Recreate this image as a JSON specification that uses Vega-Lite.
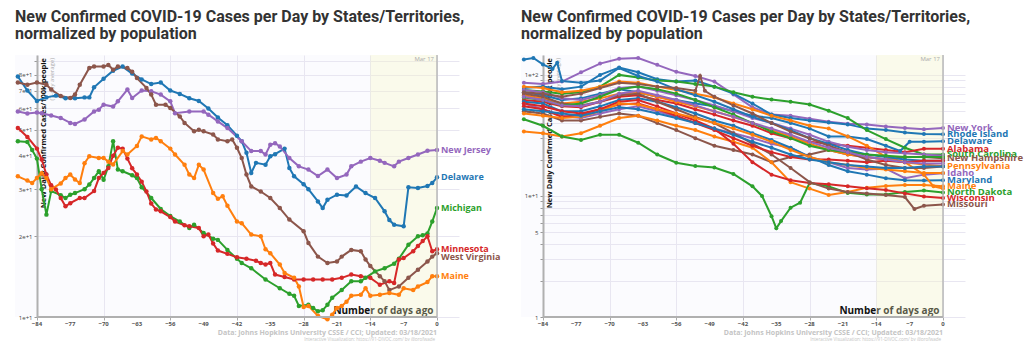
{
"$schema":"https://vega.github.io/schema/vega-lite/v6.json",
"background":"#ffffff",
"padding":{"left":13,"top":8,"right":0,"bottom":0},
"bounds":"flush",
"spacing":84,
"config":{
 "font":"Open Sans",
 "view":{"fill":"#fbfbfe","stroke":null},
 "title":{"font":"Roboto","fontSize":16,"fontWeight":"bold","color":"#333333","anchor":"start","frame":"group","offset":12,"lineHeight":17},
 "axisX":{"labels":false,"labelOverlap":false,"tickSize":3,"tickColor":"#aaaaaa","domain":false,"grid":true,"gridColor":"#e8e6f1","titleLimit":1000,"titleX":418,"titleY":-4,"titleAlign":"right","titleBaseline":"alphabetic","titleFontSize":10,"titleFontWeight":"bold","titleColor":"#111111"},
 "axisY":{"offset":-22,"labelOverlap":false,"labelFontSize":6,"labelColor":"#444444","labelPadding":2,"tickSize":3,"tickColor":"#999999","domainColor":"#b0b0b0","domainWidth":2,"grid":true,"gridColor":"#e8e6f1"}
},
"datasets":{
"T":[{"d":-84},{"d":-77},{"d":-70},{"d":-63},{"d":-56},{"d":-49},{"d":-42},{"d":-35},{"d":-28},{"d":-21},{"d":-14},{"d":-7},{"d":0}],
"L":[
{"s":"Delaware","d":-88,"v":79},{"s":"Delaware","d":-86,"v":70},{"s":"Delaware","d":-84,"v":64},{"s":"Delaware","d":-82,"v":66},{"s":"Delaware","d":-80,"v":67},{"s":"Delaware","d":-78,"v":65.5},{"s":"Delaware","d":-76,"v":65.5},{"s":"Delaware","d":-74,"v":66},{"s":"Delaware","d":-73,"v":66},{"s":"Delaware","d":-72,"v":72},{"s":"Delaware","d":-70,"v":77.5},{"s":"Delaware","d":-68,"v":83},{"s":"Delaware","d":-66,"v":86},{"s":"Delaware","d":-64,"v":81},{"s":"Delaware","d":-62,"v":77},{"s":"Delaware","d":-60,"v":74},{"s":"Delaware","d":-58,"v":75},{"s":"Delaware","d":-56,"v":70},{"s":"Delaware","d":-54,"v":68},{"s":"Delaware","d":-52,"v":65.5},{"s":"Delaware","d":-50,"v":64},{"s":"Delaware","d":-48,"v":60},{"s":"Delaware","d":-46,"v":55.5},{"s":"Delaware","d":-44,"v":52},{"s":"Delaware","d":-42,"v":47.5},{"s":"Delaware","d":-41,"v":45.3},{"s":"Delaware","d":-40,"v":41},{"s":"Delaware","d":-39,"v":34.5},{"s":"Delaware","d":-38,"v":37.6},{"s":"Delaware","d":-36,"v":37},{"s":"Delaware","d":-35,"v":39.8},{"s":"Delaware","d":-34,"v":40.5},{"s":"Delaware","d":-32,"v":42.5},{"s":"Delaware","d":-31,"v":36},{"s":"Delaware","d":-30,"v":33.5},{"s":"Delaware","d":-28,"v":31.3},{"s":"Delaware","d":-27,"v":30},{"s":"Delaware","d":-25,"v":27},{"s":"Delaware","d":-24,"v":25.5},{"s":"Delaware","d":-23,"v":27.4},{"s":"Delaware","d":-21,"v":28.6},{"s":"Delaware","d":-19,"v":28.4},{"s":"Delaware","d":-17,"v":30.7},{"s":"Delaware","d":-15,"v":29},{"s":"Delaware","d":-13,"v":27.8},{"s":"Delaware","d":-11,"v":24.8},{"s":"Delaware","d":-10,"v":23},{"s":"Delaware","d":-9,"v":22.1},{"s":"Delaware","d":-7,"v":21.8},{"s":"Delaware","d":-6,"v":30.5},{"s":"Delaware","d":-4,"v":30.3},{"s":"Delaware","d":-2,"v":30.8},{"s":"Delaware","d":-1,"v":31.6},{"s":"Delaware","d":0,"v":33.2},
{"s":"New Jersey","d":-88,"v":58.5},{"s":"New Jersey","d":-86,"v":57.5},{"s":"New Jersey","d":-84,"v":58},{"s":"New Jersey","d":-83,"v":57.6},{"s":"New Jersey","d":-81,"v":56.5},{"s":"New Jersey","d":-79,"v":55.3},{"s":"New Jersey","d":-77,"v":53},{"s":"New Jersey","d":-76,"v":52.5},{"s":"New Jersey","d":-74,"v":54.6},{"s":"New Jersey","d":-72,"v":58.5},{"s":"New Jersey","d":-71,"v":59.4},{"s":"New Jersey","d":-70,"v":62},{"s":"New Jersey","d":-68,"v":61},{"s":"New Jersey","d":-67,"v":63.8},{"s":"New Jersey","d":-65,"v":70.6},{"s":"New Jersey","d":-64,"v":65.6},{"s":"New Jersey","d":-62,"v":70},{"s":"New Jersey","d":-60,"v":69.6},{"s":"New Jersey","d":-58,"v":67.6},{"s":"New Jersey","d":-56,"v":63.8},{"s":"New Jersey","d":-55,"v":57.6},{"s":"New Jersey","d":-52,"v":58.5},{"s":"New Jersey","d":-49,"v":58.5},{"s":"New Jersey","d":-48,"v":56.9},{"s":"New Jersey","d":-46,"v":53.7},{"s":"New Jersey","d":-44,"v":50.7},{"s":"New Jersey","d":-41,"v":45.3},{"s":"New Jersey","d":-39,"v":41.6},{"s":"New Jersey","d":-37,"v":41.6},{"s":"New Jersey","d":-36,"v":40.4},{"s":"New Jersey","d":-35,"v":43.9},{"s":"New Jersey","d":-34,"v":44.5},{"s":"New Jersey","d":-33,"v":43.3},{"s":"New Jersey","d":-31,"v":39.2},{"s":"New Jersey","d":-29,"v":36.5},{"s":"New Jersey","d":-27,"v":35.5},{"s":"New Jersey","d":-25,"v":33.6},{"s":"New Jersey","d":-23,"v":35.5},{"s":"New Jersey","d":-21,"v":33},{"s":"New Jersey","d":-19,"v":34},{"s":"New Jersey","d":-18,"v":36.5},{"s":"New Jersey","d":-16,"v":38},{"s":"New Jersey","d":-14,"v":39.2},{"s":"New Jersey","d":-12,"v":38.3},{"s":"New Jersey","d":-11,"v":37.6},{"s":"New Jersey","d":-9,"v":36.5},{"s":"New Jersey","d":-8,"v":38},{"s":"New Jersey","d":-6,"v":39.2},{"s":"New Jersey","d":-4,"v":40.4},{"s":"New Jersey","d":-2,"v":41.7},{"s":"New Jersey","d":0,"v":42},
{"s":"West Virginia","d":-88,"v":75},{"s":"West Virginia","d":-86,"v":73.6},{"s":"West Virginia","d":-84,"v":75},{"s":"West Virginia","d":-82,"v":73.6},{"s":"West Virginia","d":-81,"v":70.6},{"s":"West Virginia","d":-79,"v":66.8},{"s":"West Virginia","d":-77,"v":65.6},{"s":"West Virginia","d":-76,"v":67.6},{"s":"West Virginia","d":-75,"v":73.6},{"s":"West Virginia","d":-73,"v":85},{"s":"West Virginia","d":-72,"v":86},{"s":"West Virginia","d":-70,"v":86},{"s":"West Virginia","d":-69,"v":87.2},{"s":"West Virginia","d":-68,"v":83.7},{"s":"West Virginia","d":-67,"v":86},{"s":"West Virginia","d":-65,"v":85},{"s":"West Virginia","d":-64,"v":82.3},{"s":"West Virginia","d":-63,"v":77.9},{"s":"West Virginia","d":-61,"v":71.6},{"s":"West Virginia","d":-60,"v":67.6},{"s":"West Virginia","d":-59,"v":62},{"s":"West Virginia","d":-57,"v":62},{"s":"West Virginia","d":-56,"v":60.2},{"s":"West Virginia","d":-54,"v":56},{"s":"West Virginia","d":-53,"v":53},{"s":"West Virginia","d":-51,"v":49.3},{"s":"West Virginia","d":-50,"v":50},{"s":"West Virginia","d":-49,"v":49.3},{"s":"West Virginia","d":-47,"v":48},{"s":"West Virginia","d":-46,"v":46},{"s":"West Virginia","d":-44,"v":45.3},{"s":"West Virginia","d":-43,"v":46},{"s":"West Virginia","d":-42,"v":42.8},{"s":"West Virginia","d":-41,"v":39.2},{"s":"West Virginia","d":-40,"v":34},{"s":"West Virginia","d":-39,"v":30.7},{"s":"West Virginia","d":-37,"v":29.4},{"s":"West Virginia","d":-35,"v":27.8},{"s":"West Virginia","d":-33,"v":25.5},{"s":"West Virginia","d":-31,"v":23.1},{"s":"West Virginia","d":-28,"v":20.9},{"s":"West Virginia","d":-27,"v":18.9},{"s":"West Virginia","d":-25,"v":16.8},{"s":"West Virginia","d":-23,"v":15.9},{"s":"West Virginia","d":-21,"v":16.1},{"s":"West Virginia","d":-20,"v":16.8},{"s":"West Virginia","d":-18,"v":17.8},{"s":"West Virginia","d":-16,"v":17.6},{"s":"West Virginia","d":-15,"v":16.4},{"s":"West Virginia","d":-14,"v":15.5},{"s":"West Virginia","d":-12,"v":14.2},{"s":"West Virginia","d":-11,"v":13.6},{"s":"West Virginia","d":-10,"v":12.6},{"s":"West Virginia","d":-8,"v":13},{"s":"West Virginia","d":-6,"v":14},{"s":"West Virginia","d":-4,"v":15},{"s":"West Virginia","d":-2,"v":16.1},{"s":"West Virginia","d":-1,"v":16.8},{"s":"West Virginia","d":0,"v":17.3},
{"s":"Michigan","d":-88,"v":45.3},{"s":"Michigan","d":-86,"v":45},{"s":"Michigan","d":-85,"v":42},{"s":"Michigan","d":-84,"v":39},{"s":"Michigan","d":-83,"v":30},{"s":"Michigan","d":-82,"v":24.1},{"s":"Michigan","d":-81,"v":29.5},{"s":"Michigan","d":-79,"v":28.5},{"s":"Michigan","d":-78,"v":27.8},{"s":"Michigan","d":-77,"v":28.6},{"s":"Michigan","d":-76,"v":29},{"s":"Michigan","d":-74,"v":30},{"s":"Michigan","d":-73,"v":31.2},{"s":"Michigan","d":-72,"v":33},{"s":"Michigan","d":-71,"v":35},{"s":"Michigan","d":-70,"v":32.5},{"s":"Michigan","d":-69,"v":36.5},{"s":"Michigan","d":-68,"v":45.3},{"s":"Michigan","d":-67,"v":35.5},{"s":"Michigan","d":-66,"v":35},{"s":"Michigan","d":-64,"v":33.8},{"s":"Michigan","d":-63,"v":33},{"s":"Michigan","d":-62,"v":30.5},{"s":"Michigan","d":-60,"v":27.8},{"s":"Michigan","d":-58,"v":25.3},{"s":"Michigan","d":-56,"v":23.8},{"s":"Michigan","d":-54,"v":22.7},{"s":"Michigan","d":-52,"v":21.5},{"s":"Michigan","d":-51,"v":22.1},{"s":"Michigan","d":-49,"v":20.6},{"s":"Michigan","d":-47,"v":19.6},{"s":"Michigan","d":-46,"v":19.4},{"s":"Michigan","d":-44,"v":17.8},{"s":"Michigan","d":-42,"v":16.5},{"s":"Michigan","d":-41,"v":15.9},{"s":"Michigan","d":-39,"v":15.2},{"s":"Michigan","d":-36,"v":13.8},{"s":"Michigan","d":-33,"v":12.8},{"s":"Michigan","d":-31,"v":12.2},{"s":"Michigan","d":-30,"v":12},{"s":"Michigan","d":-29,"v":11},{"s":"Michigan","d":-27,"v":11.1},{"s":"Michigan","d":-26,"v":10.8},{"s":"Michigan","d":-25,"v":10.5},{"s":"Michigan","d":-24,"v":10.6},{"s":"Michigan","d":-23,"v":11.1},{"s":"Michigan","d":-22,"v":11.8},{"s":"Michigan","d":-20,"v":12.6},{"s":"Michigan","d":-18,"v":13.6},{"s":"Michigan","d":-16,"v":13.6},{"s":"Michigan","d":-15,"v":14},{"s":"Michigan","d":-13,"v":14.8},{"s":"Michigan","d":-11,"v":15.2},{"s":"Michigan","d":-9,"v":15.8},{"s":"Michigan","d":-8,"v":16.5},{"s":"Michigan","d":-6,"v":18.6},{"s":"Michigan","d":-4,"v":20},{"s":"Michigan","d":-3,"v":20.2},{"s":"Michigan","d":-2,"v":20.5},{"s":"Michigan","d":-1,"v":22.7},{"s":"Michigan","d":0,"v":25.5},
{"s":"Minnesota","d":-88,"v":50.7},{"s":"Minnesota","d":-86,"v":47},{"s":"Minnesota","d":-84,"v":42.5},{"s":"Minnesota","d":-83,"v":38.7},{"s":"Minnesota","d":-82,"v":34},{"s":"Minnesota","d":-81,"v":31},{"s":"Minnesota","d":-80,"v":29.9},{"s":"Minnesota","d":-79,"v":27.8},{"s":"Minnesota","d":-78,"v":25.9},{"s":"Minnesota","d":-77,"v":26.6},{"s":"Minnesota","d":-75,"v":27.8},{"s":"Minnesota","d":-74,"v":27.8},{"s":"Minnesota","d":-72,"v":29.5},{"s":"Minnesota","d":-71,"v":33},{"s":"Minnesota","d":-70,"v":34.5},{"s":"Minnesota","d":-69,"v":36},{"s":"Minnesota","d":-68,"v":40},{"s":"Minnesota","d":-67,"v":42.8},{"s":"Minnesota","d":-66,"v":42.5},{"s":"Minnesota","d":-65,"v":39},{"s":"Minnesota","d":-64,"v":35.9},{"s":"Minnesota","d":-63,"v":34},{"s":"Minnesota","d":-62,"v":32},{"s":"Minnesota","d":-61,"v":29.4},{"s":"Minnesota","d":-60,"v":26.5},{"s":"Minnesota","d":-59,"v":25.2},{"s":"Minnesota","d":-58,"v":24.8},{"s":"Minnesota","d":-56,"v":23.6},{"s":"Minnesota","d":-55,"v":22.7},{"s":"Minnesota","d":-53,"v":22},{"s":"Minnesota","d":-52,"v":21.8},{"s":"Minnesota","d":-50,"v":21.5},{"s":"Minnesota","d":-49,"v":20},{"s":"Minnesota","d":-48,"v":20.3},{"s":"Minnesota","d":-47,"v":18.8},{"s":"Minnesota","d":-46,"v":17.7},{"s":"Minnesota","d":-44,"v":17.2},{"s":"Minnesota","d":-42,"v":16.7},{"s":"Minnesota","d":-40,"v":16.5},{"s":"Minnesota","d":-38,"v":16.2},{"s":"Minnesota","d":-37,"v":15.9},{"s":"Minnesota","d":-36,"v":15.7},{"s":"Minnesota","d":-35,"v":15.9},{"s":"Minnesota","d":-34,"v":14.4},{"s":"Minnesota","d":-32,"v":14.1},{"s":"Minnesota","d":-30,"v":13.8},{"s":"Minnesota","d":-28,"v":13.8},{"s":"Minnesota","d":-26,"v":13.8},{"s":"Minnesota","d":-24,"v":13.8},{"s":"Minnesota","d":-22,"v":13.8},{"s":"Minnesota","d":-20,"v":14},{"s":"Minnesota","d":-18,"v":14.4},{"s":"Minnesota","d":-16,"v":14.2},{"s":"Minnesota","d":-14,"v":14},{"s":"Minnesota","d":-12,"v":13.2},{"s":"Minnesota","d":-10,"v":13.6},{"s":"Minnesota","d":-9,"v":13.4},{"s":"Minnesota","d":-8,"v":16.4},{"s":"Minnesota","d":-7,"v":16.6},{"s":"Minnesota","d":-5,"v":17.6},{"s":"Minnesota","d":-4,"v":18.4},{"s":"Minnesota","d":-3,"v":19.2},{"s":"Minnesota","d":-2,"v":20},{"s":"Minnesota","d":-1,"v":17.6},{"s":"Minnesota","d":0,"v":17.9},
{"s":"Maine","d":-88,"v":33.5},{"s":"Maine","d":-86,"v":32.3},{"s":"Maine","d":-85,"v":31.6},{"s":"Maine","d":-84,"v":33},{"s":"Maine","d":-83,"v":34.4},{"s":"Maine","d":-82,"v":33},{"s":"Maine","d":-81,"v":30},{"s":"Maine","d":-79,"v":31.5},{"s":"Maine","d":-78,"v":33},{"s":"Maine","d":-77,"v":34},{"s":"Maine","d":-76,"v":32.6},{"s":"Maine","d":-75,"v":31.6},{"s":"Maine","d":-74,"v":37.5},{"s":"Maine","d":-73,"v":39.8},{"s":"Maine","d":-71,"v":39.2},{"s":"Maine","d":-70,"v":39.2},{"s":"Maine","d":-69,"v":38},{"s":"Maine","d":-68,"v":37.1},{"s":"Maine","d":-66,"v":41.6},{"s":"Maine","d":-65,"v":40.4},{"s":"Maine","d":-63,"v":43.5},{"s":"Maine","d":-62,"v":47.2},{"s":"Maine","d":-60,"v":46},{"s":"Maine","d":-59,"v":46.6},{"s":"Maine","d":-58,"v":45.3},{"s":"Maine","d":-56,"v":42.5},{"s":"Maine","d":-55,"v":40.4},{"s":"Maine","d":-53,"v":37},{"s":"Maine","d":-52,"v":34},{"s":"Maine","d":-51,"v":33},{"s":"Maine","d":-50,"v":37},{"s":"Maine","d":-49,"v":35.5},{"s":"Maine","d":-47,"v":29},{"s":"Maine","d":-46,"v":27.6},{"s":"Maine","d":-45,"v":28.2},{"s":"Maine","d":-44,"v":26},{"s":"Maine","d":-42,"v":22.7},{"s":"Maine","d":-41,"v":22.4},{"s":"Maine","d":-39,"v":20.3},{"s":"Maine","d":-37,"v":20},{"s":"Maine","d":-36,"v":17.9},{"s":"Maine","d":-35,"v":17.3},{"s":"Maine","d":-33,"v":15.7},{"s":"Maine","d":-32,"v":14.6},{"s":"Maine","d":-30,"v":14},{"s":"Maine","d":-29,"v":13},{"s":"Maine","d":-28,"v":10.9},{"s":"Maine","d":-27,"v":11},{"s":"Maine","d":-25,"v":10.1},{"s":"Maine","d":-23,"v":9.8},{"s":"Maine","d":-22,"v":10.2},{"s":"Maine","d":-21,"v":10.8},{"s":"Maine","d":-20,"v":11},{"s":"Maine","d":-19,"v":11.4},{"s":"Maine","d":-18,"v":12},{"s":"Maine","d":-16,"v":12.1},{"s":"Maine","d":-15,"v":12.8},{"s":"Maine","d":-14,"v":12},{"s":"Maine","d":-12,"v":12.1},{"s":"Maine","d":-10,"v":12.3},{"s":"Maine","d":-8,"v":12.1},{"s":"Maine","d":-7,"v":12.8},{"s":"Maine","d":-5,"v":12.6},{"s":"Maine","d":-4,"v":13},{"s":"Maine","d":-2,"v":13.5},{"s":"Maine","d":-1,"v":14.2},{"s":"Maine","d":0,"v":14.2}
],
"R":[
{"s":"New York","d":-88,"v":86},{"s":"New York","d":-84,"v":84},{"s":"New York","d":-80,"v":88},{"s":"New York","d":-76,"v":105},{"s":"New York","d":-72,"v":124},{"s":"New York","d":-68,"v":136},{"s":"New York","d":-64,"v":138},{"s":"New York","d":-60,"v":121},{"s":"New York","d":-56,"v":106},{"s":"New York","d":-52,"v":98},{"s":"New York","d":-48,"v":88},{"s":"New York","d":-44,"v":69},{"s":"New York","d":-40,"v":54},{"s":"New York","d":-36,"v":47},{"s":"New York","d":-32,"v":46},{"s":"New York","d":-28,"v":43.5},{"s":"New York","d":-24,"v":41},{"s":"New York","d":-20,"v":39.5},{"s":"New York","d":-16,"v":39},{"s":"New York","d":-12,"v":37.5},{"s":"New York","d":-8,"v":36.5},{"s":"New York","d":-4,"v":35.5},{"s":"New York","d":0,"v":36.5},
{"s":"Rhode Island","d":-88,"v":78},{"s":"Rhode Island","d":-84,"v":80},{"s":"Rhode Island","d":-80,"v":76},{"s":"Rhode Island","d":-76,"v":80},{"s":"Rhode Island","d":-72,"v":100},{"s":"Rhode Island","d":-68,"v":115},{"s":"Rhode Island","d":-64,"v":105},{"s":"Rhode Island","d":-60,"v":92},{"s":"Rhode Island","d":-56,"v":88},{"s":"Rhode Island","d":-52,"v":90},{"s":"Rhode Island","d":-48,"v":80},{"s":"Rhode Island","d":-44,"v":70},{"s":"Rhode Island","d":-40,"v":58},{"s":"Rhode Island","d":-36,"v":47},{"s":"Rhode Island","d":-32,"v":44},{"s":"Rhode Island","d":-28,"v":42},{"s":"Rhode Island","d":-24,"v":40.5},{"s":"Rhode Island","d":-20,"v":39},{"s":"Rhode Island","d":-16,"v":36},{"s":"Rhode Island","d":-12,"v":35},{"s":"Rhode Island","d":-8,"v":33.5},{"s":"Rhode Island","d":-4,"v":32.5},{"s":"Rhode Island","d":0,"v":32.4},
{"s":"South Carolina","d":-88,"v":75},{"s":"South Carolina","d":-84,"v":73},{"s":"South Carolina","d":-80,"v":70},{"s":"South Carolina","d":-76,"v":72},{"s":"South Carolina","d":-72,"v":80},{"s":"South Carolina","d":-68,"v":100},{"s":"South Carolina","d":-64,"v":95},{"s":"South Carolina","d":-60,"v":90},{"s":"South Carolina","d":-56,"v":88},{"s":"South Carolina","d":-52,"v":84},{"s":"South Carolina","d":-48,"v":80},{"s":"South Carolina","d":-44,"v":72},{"s":"South Carolina","d":-40,"v":66},{"s":"South Carolina","d":-36,"v":62.5},{"s":"South Carolina","d":-32,"v":60},{"s":"South Carolina","d":-28,"v":57},{"s":"South Carolina","d":-24,"v":50.5},{"s":"South Carolina","d":-20,"v":44},{"s":"South Carolina","d":-16,"v":35},{"s":"South Carolina","d":-12,"v":29.5},{"s":"South Carolina","d":-8,"v":25},{"s":"South Carolina","d":-4,"v":22},{"s":"South Carolina","d":0,"v":22},
{"s":"Delaware","d":-88,"v":72},{"s":"Delaware","d":-84,"v":68},{"s":"Delaware","d":-80,"v":62},{"s":"Delaware","d":-76,"v":64},{"s":"Delaware","d":-72,"v":70},{"s":"Delaware","d":-68,"v":76},{"s":"Delaware","d":-64,"v":72},{"s":"Delaware","d":-60,"v":66},{"s":"Delaware","d":-56,"v":62},{"s":"Delaware","d":-52,"v":58},{"s":"Delaware","d":-48,"v":55},{"s":"Delaware","d":-44,"v":50},{"s":"Delaware","d":-40,"v":46},{"s":"Delaware","d":-36,"v":44},{"s":"Delaware","d":-32,"v":40},{"s":"Delaware","d":-28,"v":36},{"s":"Delaware","d":-24,"v":31},{"s":"Delaware","d":-20,"v":31},{"s":"Delaware","d":-16,"v":29.5},{"s":"Delaware","d":-12,"v":26},{"s":"Delaware","d":-9,"v":23.5},{"s":"Delaware","d":-7,"v":28},{"s":"Delaware","d":-4,"v":28},{"s":"Delaware","d":0,"v":28.3},
{"s":"Alabama","d":-88,"v":62},{"s":"Alabama","d":-84,"v":60},{"s":"Alabama","d":-80,"v":55},{"s":"Alabama","d":-76,"v":54},{"s":"Alabama","d":-72,"v":60},{"s":"Alabama","d":-68,"v":66},{"s":"Alabama","d":-64,"v":68},{"s":"Alabama","d":-60,"v":62},{"s":"Alabama","d":-56,"v":58},{"s":"Alabama","d":-52,"v":52},{"s":"Alabama","d":-48,"v":47},{"s":"Alabama","d":-44,"v":42},{"s":"Alabama","d":-40,"v":38},{"s":"Alabama","d":-36,"v":33},{"s":"Alabama","d":-32,"v":30},{"s":"Alabama","d":-28,"v":28},{"s":"Alabama","d":-24,"v":27},{"s":"Alabama","d":-20,"v":26},{"s":"Alabama","d":-16,"v":25},{"s":"Alabama","d":-12,"v":24},{"s":"Alabama","d":-8,"v":23},{"s":"Alabama","d":-4,"v":24.5},{"s":"Alabama","d":0,"v":24.5},
{"s":"New Hampshire","d":-88,"v":50},{"s":"New Hampshire","d":-84,"v":48},{"s":"New Hampshire","d":-80,"v":42},{"s":"New Hampshire","d":-76,"v":42},{"s":"New Hampshire","d":-72,"v":45},{"s":"New Hampshire","d":-68,"v":48},{"s":"New Hampshire","d":-64,"v":46},{"s":"New Hampshire","d":-60,"v":40},{"s":"New Hampshire","d":-56,"v":35},{"s":"New Hampshire","d":-52,"v":30},{"s":"New Hampshire","d":-48,"v":26},{"s":"New Hampshire","d":-44,"v":24},{"s":"New Hampshire","d":-40,"v":22},{"s":"New Hampshire","d":-36,"v":19},{"s":"New Hampshire","d":-32,"v":21},{"s":"New Hampshire","d":-28,"v":22},{"s":"New Hampshire","d":-24,"v":24},{"s":"New Hampshire","d":-20,"v":22},{"s":"New Hampshire","d":-16,"v":21},{"s":"New Hampshire","d":-12,"v":20},{"s":"New Hampshire","d":-8,"v":21},{"s":"New Hampshire","d":-4,"v":21},{"s":"New Hampshire","d":0,"v":20.5},
{"s":"Pennsylvania","d":-88,"v":68},{"s":"Pennsylvania","d":-84,"v":64},{"s":"Pennsylvania","d":-80,"v":58},{"s":"Pennsylvania","d":-76,"v":60},{"s":"Pennsylvania","d":-72,"v":64},{"s":"Pennsylvania","d":-68,"v":70},{"s":"Pennsylvania","d":-64,"v":72},{"s":"Pennsylvania","d":-60,"v":66},{"s":"Pennsylvania","d":-56,"v":60},{"s":"Pennsylvania","d":-52,"v":55},{"s":"Pennsylvania","d":-48,"v":50},{"s":"Pennsylvania","d":-44,"v":45},{"s":"Pennsylvania","d":-40,"v":40},{"s":"Pennsylvania","d":-36,"v":35},{"s":"Pennsylvania","d":-32,"v":31},{"s":"Pennsylvania","d":-28,"v":27},{"s":"Pennsylvania","d":-24,"v":24},{"s":"Pennsylvania","d":-20,"v":22},{"s":"Pennsylvania","d":-16,"v":21},{"s":"Pennsylvania","d":-12,"v":20},{"s":"Pennsylvania","d":-8,"v":19},{"s":"Pennsylvania","d":-4,"v":18.2},{"s":"Pennsylvania","d":0,"v":17.6},
{"s":"Idaho","d":-88,"v":58},{"s":"Idaho","d":-84,"v":52},{"s":"Idaho","d":-80,"v":46},{"s":"Idaho","d":-76,"v":44},{"s":"Idaho","d":-72,"v":48},{"s":"Idaho","d":-68,"v":52},{"s":"Idaho","d":-64,"v":55},{"s":"Idaho","d":-60,"v":50},{"s":"Idaho","d":-56,"v":45},{"s":"Idaho","d":-52,"v":40},{"s":"Idaho","d":-48,"v":36},{"s":"Idaho","d":-44,"v":33},{"s":"Idaho","d":-40,"v":30},{"s":"Idaho","d":-36,"v":27},{"s":"Idaho","d":-32,"v":25},{"s":"Idaho","d":-28,"v":21},{"s":"Idaho","d":-24,"v":19},{"s":"Idaho","d":-20,"v":17},{"s":"Idaho","d":-16,"v":16.5},{"s":"Idaho","d":-12,"v":16.8},{"s":"Idaho","d":-8,"v":14},{"s":"Idaho","d":-4,"v":15},{"s":"Idaho","d":0,"v":15.4},
{"s":"Maryland","d":-88,"v":60},{"s":"Maryland","d":-84,"v":58},{"s":"Maryland","d":-80,"v":50},{"s":"Maryland","d":-76,"v":50},{"s":"Maryland","d":-72,"v":55},{"s":"Maryland","d":-68,"v":62},{"s":"Maryland","d":-64,"v":64},{"s":"Maryland","d":-60,"v":60},{"s":"Maryland","d":-56,"v":54},{"s":"Maryland","d":-52,"v":48},{"s":"Maryland","d":-48,"v":42},{"s":"Maryland","d":-44,"v":38},{"s":"Maryland","d":-40,"v":33},{"s":"Maryland","d":-36,"v":29},{"s":"Maryland","d":-32,"v":25},{"s":"Maryland","d":-28,"v":21},{"s":"Maryland","d":-24,"v":18},{"s":"Maryland","d":-20,"v":16},{"s":"Maryland","d":-16,"v":15},{"s":"Maryland","d":-12,"v":14},{"s":"Maryland","d":-8,"v":13.5},{"s":"Maryland","d":-4,"v":13.4},{"s":"Maryland","d":0,"v":13.5},
{"s":"Maine","d":-88,"v":34},{"s":"Maine","d":-84,"v":33},{"s":"Maine","d":-80,"v":31},{"s":"Maine","d":-76,"v":33},{"s":"Maine","d":-72,"v":38},{"s":"Maine","d":-68,"v":44},{"s":"Maine","d":-64,"v":46},{"s":"Maine","d":-60,"v":42},{"s":"Maine","d":-56,"v":38},{"s":"Maine","d":-52,"v":35},{"s":"Maine","d":-48,"v":31},{"s":"Maine","d":-44,"v":28},{"s":"Maine","d":-40,"v":25},{"s":"Maine","d":-36,"v":19},{"s":"Maine","d":-32,"v":13},{"s":"Maine","d":-28,"v":11.5},{"s":"Maine","d":-24,"v":10.2},{"s":"Maine","d":-20,"v":10.8},{"s":"Maine","d":-16,"v":11.7},{"s":"Maine","d":-12,"v":12.1},{"s":"Maine","d":-8,"v":12.3},{"s":"Maine","d":-4,"v":12.3},{"s":"Maine","d":0,"v":12},
{"s":"North Dakota","d":-88,"v":43},{"s":"North Dakota","d":-84,"v":38},{"s":"North Dakota","d":-80,"v":31},{"s":"North Dakota","d":-76,"v":29},{"s":"North Dakota","d":-72,"v":32},{"s":"North Dakota","d":-68,"v":32},{"s":"North Dakota","d":-64,"v":27.5},{"s":"North Dakota","d":-60,"v":22},{"s":"North Dakota","d":-56,"v":18.8},{"s":"North Dakota","d":-52,"v":17.7},{"s":"North Dakota","d":-48,"v":17.2},{"s":"North Dakota","d":-44,"v":15.2},{"s":"North Dakota","d":-40,"v":12},{"s":"North Dakota","d":-38,"v":10},{"s":"North Dakota","d":-36,"v":6.8},{"s":"North Dakota","d":-35,"v":5.4},{"s":"North Dakota","d":-34,"v":6.2},{"s":"North Dakota","d":-32,"v":8},{"s":"North Dakota","d":-30,"v":8.8},{"s":"North Dakota","d":-28,"v":12.8},{"s":"North Dakota","d":-24,"v":12},{"s":"North Dakota","d":-20,"v":10.6},{"s":"North Dakota","d":-16,"v":10.3},{"s":"North Dakota","d":-12,"v":10.3},{"s":"North Dakota","d":-8,"v":10.8},{"s":"North Dakota","d":-4,"v":11.1},{"s":"North Dakota","d":0,"v":10.7},
{"s":"Wisconsin","d":-88,"v":55},{"s":"Wisconsin","d":-84,"v":52},{"s":"Wisconsin","d":-80,"v":45},{"s":"Wisconsin","d":-76,"v":47},{"s":"Wisconsin","d":-72,"v":52},{"s":"Wisconsin","d":-68,"v":60},{"s":"Wisconsin","d":-64,"v":62},{"s":"Wisconsin","d":-60,"v":55},{"s":"Wisconsin","d":-56,"v":48},{"s":"Wisconsin","d":-52,"v":42},{"s":"Wisconsin","d":-48,"v":36},{"s":"Wisconsin","d":-44,"v":27},{"s":"Wisconsin","d":-40,"v":19},{"s":"Wisconsin","d":-36,"v":15},{"s":"Wisconsin","d":-32,"v":13.5},{"s":"Wisconsin","d":-28,"v":12.8},{"s":"Wisconsin","d":-24,"v":12.5},{"s":"Wisconsin","d":-20,"v":12},{"s":"Wisconsin","d":-16,"v":11.6},{"s":"Wisconsin","d":-12,"v":11.2},{"s":"Wisconsin","d":-8,"v":10.5},{"s":"Wisconsin","d":-4,"v":9.9},{"s":"Wisconsin","d":0,"v":9.6},
{"s":"Missouri","d":-88,"v":70},{"s":"Missouri","d":-84,"v":66},{"s":"Missouri","d":-80,"v":58},{"s":"Missouri","d":-76,"v":56},{"s":"Missouri","d":-72,"v":60},{"s":"Missouri","d":-68,"v":68},{"s":"Missouri","d":-64,"v":70},{"s":"Missouri","d":-60,"v":60},{"s":"Missouri","d":-56,"v":52},{"s":"Missouri","d":-52,"v":45},{"s":"Missouri","d":-48,"v":40},{"s":"Missouri","d":-44,"v":33},{"s":"Missouri","d":-40,"v":27},{"s":"Missouri","d":-36,"v":22},{"s":"Missouri","d":-32,"v":17},{"s":"Missouri","d":-28,"v":13},{"s":"Missouri","d":-24,"v":11.5},{"s":"Missouri","d":-20,"v":10.8},{"s":"Missouri","d":-16,"v":10.5},{"s":"Missouri","d":-12,"v":10.2},{"s":"Missouri","d":-8,"v":9.8},{"s":"Missouri","d":-6,"v":7.8},{"s":"Missouri","d":-4,"v":8.3},{"s":"Missouri","d":0,"v":8.5},
{"s":"z1","d":-88,"v":80},{"s":"z1","d":-84,"v":78},{"s":"z1","d":-80,"v":72},{"s":"z1","d":-76,"v":74},{"s":"z1","d":-72,"v":80},{"s":"z1","d":-68,"v":88},{"s":"z1","d":-64,"v":86},{"s":"z1","d":-60,"v":80},{"s":"z1","d":-56,"v":75},{"s":"z1","d":-52,"v":70},{"s":"z1","d":-48,"v":65},{"s":"z1","d":-44,"v":58},{"s":"z1","d":-40,"v":52},{"s":"z1","d":-36,"v":46},{"s":"z1","d":-32,"v":42},{"s":"z1","d":-28,"v":38},{"s":"z1","d":-24,"v":36},{"s":"z1","d":-20,"v":31},{"s":"z1","d":-16,"v":26},{"s":"z1","d":-12,"v":21},{"s":"z1","d":-8,"v":19},{"s":"z1","d":-4,"v":15},{"s":"z1","d":-2,"v":12},{"s":"z1","d":0,"v":11.5},
{"s":"z2","d":-88,"v":75},{"s":"z2","d":-84,"v":72},{"s":"z2","d":-80,"v":64},{"s":"z2","d":-76,"v":62},{"s":"z2","d":-72,"v":68},{"s":"z2","d":-68,"v":78},{"s":"z2","d":-64,"v":80},{"s":"z2","d":-60,"v":74},{"s":"z2","d":-56,"v":68},{"s":"z2","d":-52,"v":62},{"s":"z2","d":-48,"v":56},{"s":"z2","d":-44,"v":50},{"s":"z2","d":-40,"v":44},{"s":"z2","d":-36,"v":40},{"s":"z2","d":-32,"v":36},{"s":"z2","d":-28,"v":32},{"s":"z2","d":-24,"v":28},{"s":"z2","d":-20,"v":25.5},{"s":"z2","d":-16,"v":24},{"s":"z2","d":-12,"v":23},{"s":"z2","d":-8,"v":22.5},{"s":"z2","d":-4,"v":22},{"s":"z2","d":0,"v":21.5},
{"s":"z3","d":-88,"v":134},{"s":"z3","d":-86,"v":138},{"s":"z3","d":-84,"v":122},{"s":"z3","d":-82,"v":112},{"s":"z3","d":-81,"v":126},{"s":"z3","d":-80,"v":89},{"s":"z3","d":-76,"v":86},{"s":"z3","d":-72,"v":90},{"s":"z3","d":-68,"v":114},{"s":"z3","d":-64,"v":98},{"s":"z3","d":-60,"v":88},{"s":"z3","d":-56,"v":76},{"s":"z3","d":-52,"v":68},{"s":"z3","d":-48,"v":60},{"s":"z3","d":-44,"v":52},{"s":"z3","d":-40,"v":45},{"s":"z3","d":-36,"v":40},{"s":"z3","d":-32,"v":35},{"s":"z3","d":-28,"v":30},{"s":"z3","d":-24,"v":27},{"s":"z3","d":-20,"v":24},{"s":"z3","d":-16,"v":22},{"s":"z3","d":-12,"v":21},{"s":"z3","d":-8,"v":20},{"s":"z3","d":-4,"v":19.5},{"s":"z3","d":0,"v":19.5},
{"s":"z4","d":-88,"v":65},{"s":"z4","d":-84,"v":62},{"s":"z4","d":-80,"v":56},{"s":"z4","d":-76,"v":58},{"s":"z4","d":-72,"v":66},{"s":"z4","d":-68,"v":76},{"s":"z4","d":-64,"v":80},{"s":"z4","d":-60,"v":76},{"s":"z4","d":-56,"v":70},{"s":"z4","d":-52,"v":62},{"s":"z4","d":-48,"v":54},{"s":"z4","d":-44,"v":47},{"s":"z4","d":-40,"v":40},{"s":"z4","d":-36,"v":34},{"s":"z4","d":-32,"v":30},{"s":"z4","d":-28,"v":26},{"s":"z4","d":-24,"v":24},{"s":"z4","d":-20,"v":23},{"s":"z4","d":-16,"v":22},{"s":"z4","d":-12,"v":21.5},{"s":"z4","d":-8,"v":21},{"s":"z4","d":-4,"v":21},{"s":"z4","d":0,"v":21},
{"s":"z5","d":-88,"v":58},{"s":"z5","d":-84,"v":55},{"s":"z5","d":-80,"v":50},{"s":"z5","d":-76,"v":48},{"s":"z5","d":-72,"v":52},{"s":"z5","d":-68,"v":57},{"s":"z5","d":-64,"v":58},{"s":"z5","d":-60,"v":52},{"s":"z5","d":-56,"v":46},{"s":"z5","d":-52,"v":40},{"s":"z5","d":-48,"v":35},{"s":"z5","d":-44,"v":30},{"s":"z5","d":-40,"v":26},{"s":"z5","d":-36,"v":23},{"s":"z5","d":-32,"v":21},{"s":"z5","d":-28,"v":20},{"s":"z5","d":-24,"v":20},{"s":"z5","d":-20,"v":19.5},{"s":"z5","d":-16,"v":19},{"s":"z5","d":-12,"v":19.5},{"s":"z5","d":-8,"v":19},{"s":"z5","d":-4,"v":19.5},{"s":"z5","d":0,"v":19.5},
{"s":"z6","d":-88,"v":72},{"s":"z6","d":-84,"v":70},{"s":"z6","d":-80,"v":66},{"s":"z6","d":-76,"v":70},{"s":"z6","d":-72,"v":78},{"s":"z6","d":-68,"v":86},{"s":"z6","d":-64,"v":84},{"s":"z6","d":-60,"v":80},{"s":"z6","d":-56,"v":78},{"s":"z6","d":-52,"v":74},{"s":"z6","d":-51,"v":98},{"s":"z6","d":-50,"v":74},{"s":"z6","d":-48,"v":66},{"s":"z6","d":-44,"v":56},{"s":"z6","d":-40,"v":48},{"s":"z6","d":-36,"v":40},{"s":"z6","d":-32,"v":34},{"s":"z6","d":-28,"v":30},{"s":"z6","d":-24,"v":26},{"s":"z6","d":-20,"v":23},{"s":"z6","d":-16,"v":20},{"s":"z6","d":-12,"v":18},{"s":"z6","d":-8,"v":17},{"s":"z6","d":-4,"v":17},{"s":"z6","d":0,"v":17.5},
{"s":"z7","d":-88,"v":48},{"s":"z7","d":-84,"v":46},{"s":"z7","d":-80,"v":44},{"s":"z7","d":-76,"v":45},{"s":"z7","d":-72,"v":50},{"s":"z7","d":-68,"v":58},{"s":"z7","d":-64,"v":57},{"s":"z7","d":-60,"v":52},{"s":"z7","d":-56,"v":48},{"s":"z7","d":-52,"v":44},{"s":"z7","d":-48,"v":40},{"s":"z7","d":-44,"v":36},{"s":"z7","d":-40,"v":32},{"s":"z7","d":-36,"v":28},{"s":"z7","d":-32,"v":24},{"s":"z7","d":-28,"v":21},{"s":"z7","d":-24,"v":19},{"s":"z7","d":-20,"v":18},{"s":"z7","d":-16,"v":17},{"s":"z7","d":-12,"v":16.5},{"s":"z7","d":-8,"v":16},{"s":"z7","d":-4,"v":15.5},{"s":"z7","d":0,"v":15.5},
{"s":"z8","d":-88,"v":66},{"s":"z8","d":-84,"v":62},{"s":"z8","d":-80,"v":56},{"s":"z8","d":-76,"v":55},{"s":"z8","d":-72,"v":60},{"s":"z8","d":-68,"v":70},{"s":"z8","d":-64,"v":74},{"s":"z8","d":-60,"v":68},{"s":"z8","d":-56,"v":62},{"s":"z8","d":-52,"v":56},{"s":"z8","d":-48,"v":50},{"s":"z8","d":-44,"v":45},{"s":"z8","d":-40,"v":40},{"s":"z8","d":-36,"v":36},{"s":"z8","d":-32,"v":32},{"s":"z8","d":-28,"v":28},{"s":"z8","d":-24,"v":25},{"s":"z8","d":-20,"v":23},{"s":"z8","d":-16,"v":21},{"s":"z8","d":-12,"v":20},{"s":"z8","d":-8,"v":19},{"s":"z8","d":-4,"v":18.5},{"s":"z8","d":0,"v":18.5},
{"s":"z9","d":-88,"v":52},{"s":"z9","d":-84,"v":50},{"s":"z9","d":-80,"v":48},{"s":"z9","d":-76,"v":46},{"s":"z9","d":-72,"v":50},{"s":"z9","d":-68,"v":54},{"s":"z9","d":-64,"v":52},{"s":"z9","d":-60,"v":48},{"s":"z9","d":-56,"v":44},{"s":"z9","d":-52,"v":40},{"s":"z9","d":-48,"v":36},{"s":"z9","d":-44,"v":32},{"s":"z9","d":-40,"v":28},{"s":"z9","d":-36,"v":25},{"s":"z9","d":-32,"v":22},{"s":"z9","d":-28,"v":20},{"s":"z9","d":-24,"v":19},{"s":"z9","d":-20,"v":18},{"s":"z9","d":-16,"v":17.5},{"s":"z9","d":-12,"v":17},{"s":"z9","d":-8,"v":17},{"s":"z9","d":-4,"v":17.5},{"s":"z9","d":0,"v":17.5}
]
},
"hconcat":[
{
"width":422,"height":262,
"title":{"text":["New Confirmed COVID-19 Cases per Day by States/Territories,","normalized by population"]},
"layer":[
 {"data":{"values":[{}]},"mark":{"type":"rect","color":"#f7f7c0","opacity":0.3},"encoding":{"x":{"datum":-14,"type":"quantitative"},"x2":{"datum":0}}},
 {"data":{"values":[{"t":"New Daily Confirmed Cases/100k people"}]},"mark":{"type":"text","angle":270,"align":"right","baseline":"top","dx":-3,"dy":3,"fontSize":7.5,"fontWeight":"bold","color":"#111111"},"encoding":{"x":{"datum":-84,"type":"quantitative"},"y":{"datum":95,"type":"quantitative"},"text":{"field":"t"}}},
 {"data":{"values":[{"t":"(7-day average)"}]},"mark":{"type":"text","angle":270,"align":"right","baseline":"top","dx":-3,"dy":12,"fontSize":6,"color":"#aaaaaa"},"encoding":{"x":{"datum":-84,"type":"quantitative"},"y":{"datum":95,"type":"quantitative"},"text":{"field":"t"}}},
 {"data":{"name":"L"},"mark":{"type":"line","strokeWidth":2},
  "encoding":{
   "x":{"field":"d","type":"quantitative","scale":{"domain":[-88.6,0],"nice":false,"zero":false},"axis":{"values":[-84,-77,-70,-63,-56,-49,-42,-35,-28,-21,-14,-7,0],"title":"Number of days ago"}},
   "y":{"field":"v","type":"quantitative","scale":{"type":"log","domain":[10,95],"nice":false},
     "axis":{"values":[10,20,30,40,50,60,70,80,90],"labelExpr":"datum.value < 85 ? format(datum.value, '.0e') : ''","title":null}},
   "color":{"field":"s","type":"nominal","scale":{"domain":["New Jersey","Delaware","Michigan","Minnesota","West Virginia","Maine"],"range":["#9467bd","#1f77b4","#2ca02c","#d62728","#8c564b","#ff7f0e"]},"legend":null}}},
 {"data":{"name":"L"},"mark":{"type":"circle","size":20,"opacity":1},
  "encoding":{"x":{"field":"d","type":"quantitative"},"y":{"field":"v","type":"quantitative"},"color":{"field":"s","type":"nominal","legend":null}}},
 {"data":{"name":"L"},"transform":[{"filter":"datum.d == 0 && datum.s != 'Minnesota' && datum.s != 'West Virginia'"}],"mark":{"type":"text","align":"left","baseline":"middle","dx":4,"fontSize":9,"fontWeight":"bold"},
  "encoding":{"x":{"field":"d","type":"quantitative"},"y":{"field":"v","type":"quantitative"},"color":{"field":"s","type":"nominal","legend":null},"text":{"field":"s"}}},
 {"data":{"name":"L"},"transform":[{"filter":"datum.d == 0 && datum.s == 'Minnesota'"}],"mark":{"type":"text","align":"left","baseline":"middle","dx":4,"dy":0,"fontSize":9,"fontWeight":"bold"},
  "encoding":{"x":{"field":"d","type":"quantitative"},"y":{"field":"v","type":"quantitative"},"color":{"field":"s","type":"nominal","legend":null},"text":{"field":"s"}}},
 {"data":{"name":"L"},"transform":[{"filter":"datum.d == 0 && datum.s == 'West Virginia'"}],"mark":{"type":"text","align":"left","baseline":"middle","dx":4,"dy":4,"fontSize":9,"fontWeight":"bold"},
  "encoding":{"x":{"field":"d","type":"quantitative"},"y":{"field":"v","type":"quantitative"},"color":{"field":"s","type":"nominal","legend":null},"text":{"field":"s"}}},
 {"data":{"values":[{}]},"mark":{"type":"rule","color":"#b8b8b8","strokeWidth":1.5},"encoding":{"x":{"datum":0,"type":"quantitative"}}},
 {"data":{"values":[{}]},"mark":{"type":"rule","color":"#b0b0b0","strokeWidth":2},"encoding":{"x":{"datum":-84,"type":"quantitative"},"x2":{"datum":0},"y":{"datum":10,"type":"quantitative"}}},
 {"data":{"name":"T"},"mark":{"type":"text","baseline":"top","dy":4,"fontSize":6,"fontWeight":"bold","color":"#555555"},"encoding":{"x":{"field":"d","type":"quantitative"},"y":{"datum":10,"type":"quantitative"},"text":{"field":"d","type":"quantitative","format":"d"}}},
 {"data":{"values":[{"t":"Mar 17"}]},"mark":{"type":"text","align":"right","baseline":"top","dx":-3,"dy":1,"fontSize":6,"color":"#aaaaaa"},"encoding":{"x":{"datum":0,"type":"quantitative"},"y":{"datum":95,"type":"quantitative"},"text":{"field":"t"}}},
 {"data":{"values":[{"t":"Data: Johns Hopkins University CSSE / CCI; Updated: 03/18/2021"}]},"mark":{"type":"text","align":"right","baseline":"alphabetic","dy":17.5,"fontSize":7,"fontWeight":"bold","color":"#c4c4c4"},"encoding":{"x":{"datum":0,"type":"quantitative"},"y":{"datum":10,"type":"quantitative"},"text":{"field":"t"}}},
 {"data":{"values":[{"t":"Interactive Visualization: https://91-DIVOC.com/ by @profwade_"}]},"mark":{"type":"text","align":"right","baseline":"alphabetic","dy":23.5,"fontSize":4.5,"color":"#c4c4c4"},"encoding":{"x":{"datum":0,"type":"quantitative"},"y":{"datum":10,"type":"quantitative"},"text":{"field":"t"}}}
]
},
{
"width":422,"height":262,
"title":{"text":["New Confirmed COVID-19 Cases per Day by States/Territories,","normalized by population"]},
"layer":[
 {"data":{"values":[{}]},"mark":{"type":"rect","color":"#f7f7c0","opacity":0.3},"encoding":{"x":{"datum":-14,"type":"quantitative"},"x2":{"datum":0}}},
 {"data":{"values":[{"t":"New Daily Confirmed Cases/100k people"}]},"mark":{"type":"text","angle":270,"align":"right","baseline":"top","dx":-3,"dy":3,"fontSize":7.5,"fontWeight":"bold","color":"#111111"},"encoding":{"x":{"datum":-84,"type":"quantitative"},"y":{"datum":146,"type":"quantitative"},"text":{"field":"t"}}},
 {"data":{"values":[{"t":"(7-day average)"}]},"mark":{"type":"text","angle":270,"align":"right","baseline":"top","dx":-3,"dy":12,"fontSize":6,"color":"#aaaaaa"},"encoding":{"x":{"datum":-84,"type":"quantitative"},"y":{"datum":146,"type":"quantitative"},"text":{"field":"t"}}},
 {"data":{"name":"R"},"mark":{"type":"line","strokeWidth":2},
  "encoding":{
   "x":{"field":"d","type":"quantitative","scale":{"domain":[-88.6,0],"nice":false,"zero":false},"axis":{"values":[-84,-77,-70,-63,-56,-49,-42,-35,-28,-21,-14,-7,0],"title":"Number of days ago"}},
   "y":{"field":"v","type":"quantitative","scale":{"type":"log","domain":[1,146],"nice":false},
     "axis":{"values":[1,2,3,4,5,6,7,8,9,10,20,30,40,50,60,70,80,90,100],"labelExpr":"datum.value == 1 ? '1' : datum.value == 5 ? '5' : datum.value == 10 ? '1e+1' : datum.value == 50 ? '5e+1' : datum.value == 100 ? '1e+2' : ''","title":null}},
   "color":{"field":"s","type":"nominal","scale":{"domain":["New York","Rhode Island","South Carolina","Delaware","Alabama","New Hampshire","Pennsylvania","Idaho","Maryland","Maine","North Dakota","Wisconsin","Missouri","z1","z2","z3","z4","z5","z6","z7","z8","z9"],"range":["#7f7f7f","#9467bd","#d62728","#8c564b","#17becf","#bcbd22","#8c564b","#17becf","#2ca02c","#d62728","#e377c2","#ff7f0e","#1f77b4","#7f7f7f","#1f77b4","#2ca02c","#ff7f0e","#bcbd22","#9467bd","#2ca02c","#1f77b4","#17becf"]},"legend":null}}},
 {"data":{"name":"R"},"mark":{"type":"circle","size":16,"opacity":1},
  "encoding":{"x":{"field":"d","type":"quantitative"},"y":{"field":"v","type":"quantitative"},"color":{"field":"s","type":"nominal","legend":null}}},
 {"data":{"name":"R"},"transform":[{"filter":"datum.d == 0 && indexof(['New York','Rhode Island','Delaware','Alabama','South Carolina','New Hampshire','Pennsylvania','Idaho','Maryland','Maine','North Dakota','Wisconsin','Missouri'], datum.s) >= 0"}],"mark":{"type":"text","align":"left","baseline":"middle","dx":4,"fontSize":9.5,"fontWeight":"bold"},
  "encoding":{"x":{"field":"d","type":"quantitative"},"y":{"field":"v","type":"quantitative"},"color":{"field":"s","type":"nominal","legend":null},"text":{"field":"s"}}},
 {"data":{"values":[{}]},"mark":{"type":"rule","color":"#b8b8b8","strokeWidth":1.5},"encoding":{"x":{"datum":0,"type":"quantitative"}}},
 {"data":{"values":[{}]},"mark":{"type":"rule","color":"#b0b0b0","strokeWidth":2},"encoding":{"x":{"datum":-84,"type":"quantitative"},"x2":{"datum":0},"y":{"datum":1,"type":"quantitative"}}},
 {"data":{"name":"T"},"mark":{"type":"text","baseline":"top","dy":4,"fontSize":6,"fontWeight":"bold","color":"#555555"},"encoding":{"x":{"field":"d","type":"quantitative"},"y":{"datum":1,"type":"quantitative"},"text":{"field":"d","type":"quantitative","format":"d"}}},
 {"data":{"values":[{"t":"Mar 17"}]},"mark":{"type":"text","align":"right","baseline":"top","dx":-3,"dy":1,"fontSize":6,"color":"#aaaaaa"},"encoding":{"x":{"datum":0,"type":"quantitative"},"y":{"datum":146,"type":"quantitative"},"text":{"field":"t"}}},
 {"data":{"values":[{"t":"Data: Johns Hopkins University CSSE / CCI; Updated: 03/18/2021"}]},"mark":{"type":"text","align":"right","baseline":"alphabetic","dy":17.5,"fontSize":7,"fontWeight":"bold","color":"#c4c4c4"},"encoding":{"x":{"datum":0,"type":"quantitative"},"y":{"datum":1,"type":"quantitative"},"text":{"field":"t"}}},
 {"data":{"values":[{"t":"Interactive Visualization: https://91-DIVOC.com/ by @profwade_"}]},"mark":{"type":"text","align":"right","baseline":"alphabetic","dy":23.5,"fontSize":4.5,"color":"#c4c4c4"},"encoding":{"x":{"datum":0,"type":"quantitative"},"y":{"datum":1,"type":"quantitative"},"text":{"field":"t"}}}
]
}
]
}
